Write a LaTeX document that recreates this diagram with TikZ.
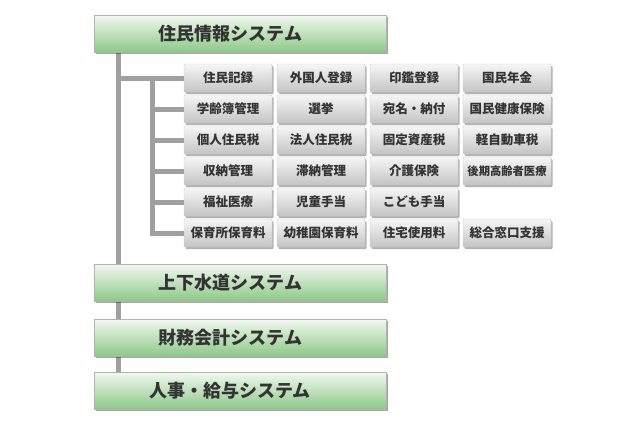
\documentclass[tikz,border=0pt]{standalone}
\usepackage{fontspec}
\newfontfamily\jp{Noto Sans CJK JP}
\usetikzlibrary{shadows}
\definecolor{linegray}{HTML}{A0A0A0}
\definecolor{txt}{HTML}{333333}
\definecolor{gtop}{HTML}{F2F8F0}
\definecolor{gbot}{HTML}{8CC887}
\definecolor{btop}{HTML}{F6F6F6}
\definecolor{bbot}{HTML}{C4C4C4}
\newcommand{\padr}{\rule{20pt}{0pt}}
\begin{document}
\begin{tikzpicture}[x=1pt,y=-1pt,
  conn/.style={draw=linegray, line width=5pt},
  sysbox/.style={draw=black!30, line width=0.5pt, top color=gtop, bottom color=gbot,
    minimum width=292pt, minimum height=37pt, anchor=north west, inner sep=0pt,
    font=\jp\bfseries\fontsize{18}{18}\selectfont, text=txt,
    drop shadow={shadow xshift=1.5pt, shadow yshift=-2pt, fill=black, opacity=0.35}},
  subbox/.style={draw=black!20, line width=0.4pt, top color=btop, bottom color=bbot,
    rounded corners=1pt, minimum width=88pt, minimum height=28pt, inner sep=0pt,
    font=\jp\bfseries\fontsize{12.5}{12.5}\selectfont, text=txt,
    drop shadow={shadow xshift=1.5pt, shadow yshift=-2pt, fill=black, opacity=0.3}}]
\useasboundingbox[fill=white] (0,0) rectangle (640,426);

% system boxes positions
\coordinate (p1) at (94,15);
\coordinate (p2) at (94,264);
\coordinate (p3) at (94,319);
\coordinate (p4) at (94,372);

% trunk line (covered at its ends by the system boxes)
\coordinate (ttop) at (118,40);
\coordinate (tbot) at (118,385);
\draw[conn] (ttop) -- (tbot);

\node[subbox] (b11) at (228,78) {住民記録};
\node[subbox] (b12) at (321,78) {外国人登録};
\node[subbox] (b13) at (414,78) {印鑑登録};
\node[subbox] (b14) at (507,78) {国民年金};

\node[subbox] (b21) at (228,109) {学齢簿管理};
\node[subbox] (b22) at (321,109) {選挙};
\node[subbox] (b23) at (414,109) {宛名・納付};
\node[subbox] (b24) at (507,109) {国民健康保険};

\node[subbox] (b31) at (228,140) {個人住民税};
\node[subbox] (b32) at (321,140) {法人住民税};
\node[subbox] (b33) at (414,140) {固定資産税};
\node[subbox] (b34) at (507,140) {軽自動車税};

\node[subbox] (b41) at (228,171) {収納管理};
\node[subbox] (b42) at (321,171) {滞納管理};
\node[subbox] (b43) at (414,171) {介護保険};
\node[subbox, font=\jp\bfseries\fontsize{11.3}{11.3}\selectfont] (b44) at (507,171) {後期高齢者医療};

\node[subbox] (b51) at (228,202) {福祉医療};
\node[subbox] (b52) at (321,202) {児童手当};
\node[subbox] (b53) at (414,202) {こども手当};

\node[subbox] (b61) at (228,233) {保育所保育料};
\node[subbox] (b62) at (321,233) {幼稚園保育料};
\node[subbox] (b63) at (414,233) {住宅使用料};
\node[subbox] (b64) at (507,233) {総合窓口支援};

% connectors
\coordinate (t1) at (118,78);
\coordinate (s1) at (152,78);
\draw[conn] (t1) -- (b11.west);
\draw[conn, line join=miter] (s1) |- (b61.west);
\draw[conn] (b21.west -| s1) -- (b21.west);
\draw[conn] (b31.west -| s1) -- (b31.west);
\draw[conn] (b41.west -| s1) -- (b41.west);
\draw[conn] (b51.west -| s1) -- (b51.west);

% system boxes
\node[sysbox] (g1) at (p1) {住民情報システム\padr};
\node[sysbox] (g2) at (p2) {上下水道システム\padr};
\node[sysbox] (g3) at (p3) {財務会計システム\padr};
\node[sysbox] (g4) at (p4) {人事・給与システム\padr};
\end{tikzpicture}
\end{document}
